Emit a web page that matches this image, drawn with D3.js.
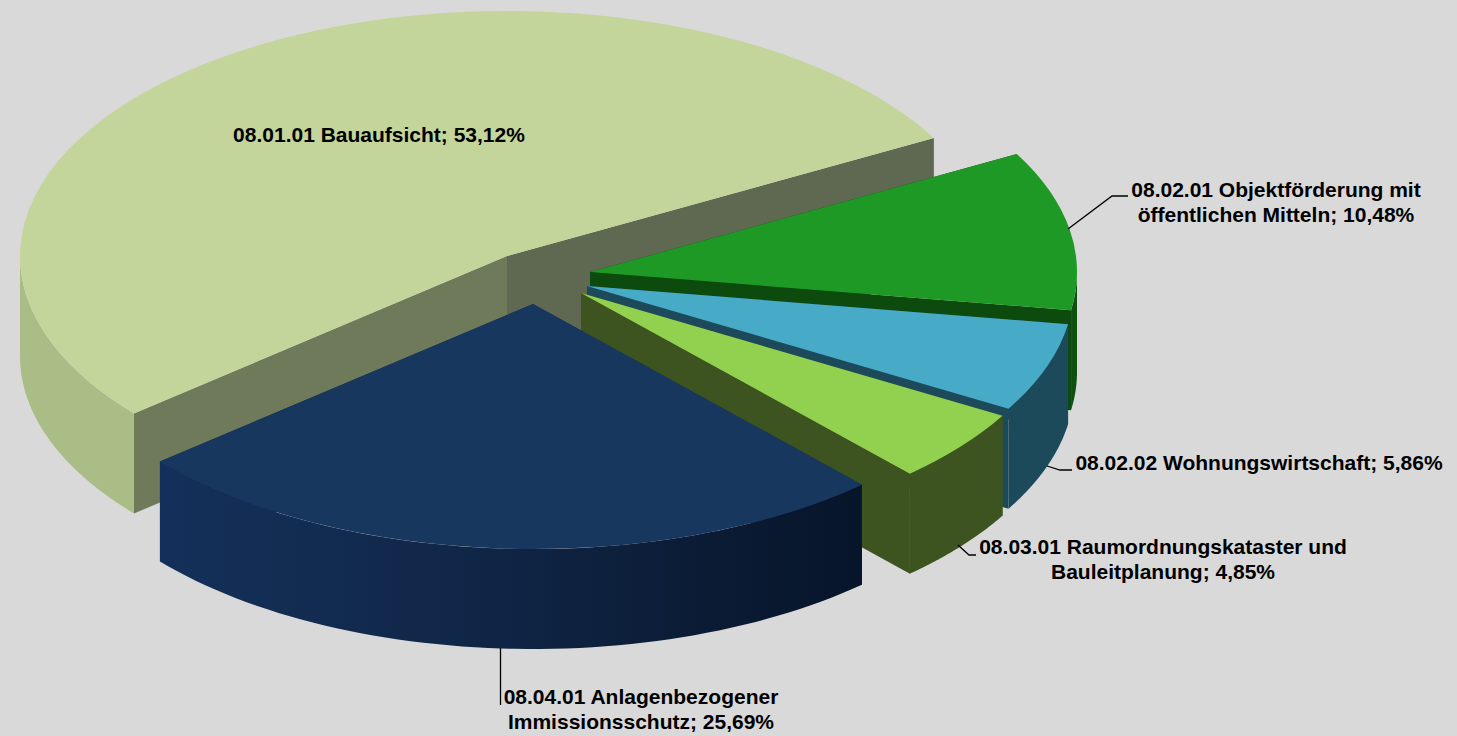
<!DOCTYPE html>
<html>
<head>
<meta charset="utf-8">
<style>
	html, body { margin: 0; padding: 0; background: #d9d9d9; }
	svg { display: block; }
	text { font-family: "Liberation Sans", Arial, sans-serif; font-weight: bold; font-size: 21px; fill: #000; }
</style>
<script src="https://cdnjs.cloudflare.com/ajax/libs/d3/7.8.5/d3.min.js"></script>
</head>
<body>
<script>
// values, clockwise from the start of the big slice
var categories = [
	'08.01.01 Bauaufsicht',
	'08.02.01 Objektförderung mit öffentlichen Mitteln',
	'08.02.02 Wohnungswirtschaft',
	'08.03.01 Raumordnungskataster und Bauleitplanung',
	'08.04.01 Anlagenbezogener Immissionsschutz'
];
var shares = [53.12, 10.48, 5.86, 4.85, 25.69];
var labelLines = [
	['08.01.01 Bauaufsicht; 53,12%'],
	['08.02.01 Objektförderung mit', 'öffentlichen Mitteln; 10,48%'],
	['08.02.02 Wohnungswirtschaft; 5,86%'],
	['08.03.01 Raumordnungskataster und', 'Bauleitplanung; 4,85%'],
	['08.04.01 Anlagenbezogener', 'Immissionsschutz; 25,69%']
];

var width = 1457, height = 736;

// pie geometry
var rx = 487, ry = 245, depth = 100;
var firstAngle = 230 * Math.PI / 180;
var apexes = [[507, 256], [590, 272], [587, 286], [581, 293], [533, 304]];

// styles
var topColors = ['#c4d59b', '#1f9926', '#47abc8', '#92d050', '#17375e'];
var rimColors = ['#aabd87', '#0e500f', '#1c4a5b', '#3d5320', 'url(#navyRim)'];
var wallColors = [['#6f7a5a', '#5f6850'], ['#0c4a0d', '#0c4a0d'], ['#1c4a5b', '#1c4a5b'], ['#3d5320', '#3d5320'], ['#14305a', '#14305a']];

// label positions: centre x, first baseline
var labelPos = [[379, 142], [1276, 197], [1259, 470], [1163, 554], [641, 704]];
var leaders = [
	null,
	[[1068, 229], [1112, 196], [1128, 196]],
	[[1047, 466], [1060, 470], [1072, 470]],
	[[958, 545], [969, 555], [976, 555]],
	[[500.5, 648], [500.5, 705]]
];

var svg = d3.select('body').append('svg')
	.attr('width', width)
	.attr('height', height);

svg.append('rect')
	.attr('width', width)
	.attr('height', height)
	.attr('fill', '#d9d9d9');

var gradient = svg.append('defs').append('linearGradient')
	.attr('id', 'navyRim')
	.attr('gradientUnits', 'userSpaceOnUse')
	.attr('x1', 160).attr('x2', 863)
	.attr('y1', 0).attr('y2', 0);
gradient.selectAll('stop')
	.data([[0, '#14305a'], [0.45, '#102647'], [0.75, '#0b1c36'], [1, '#07152a']])
	.enter().append('stop')
	.attr('offset', function(d) { return d[0]; })
	.attr('stop-color', function(d) { return d[1]; });

var slices = d3.pie()
	.sort(null)
	.startAngle(firstAngle)
	.endAngle(firstAngle + 2 * Math.PI)(shares);

var arc = d3.arc().innerRadius(0).outerRadius(rx);
var line = d3.line();

function rimPoint(apex, angle, drop) {
	return [apex[0] + rx * Math.sin(angle), apex[1] - ry * Math.cos(angle) + drop];
}

// only the part of the rim facing the viewer, angle 90..270 deg
function rimPath(apex, a0, a1) {
	var turn = 2 * Math.PI;
	// slices after the big one have gone past a full turn
	if (a0 >= turn) { a0 -= turn; a1 -= turn; }
	var from = Math.max(a0, Math.PI / 2);
	var to = Math.min(a1, 3 * Math.PI / 2);
	if (to <= from) return null;
	var angles = d3.range(0, 61).map(function(i) { return from + (to - from) * i / 60; });
	var upper = angles.map(function(a) { return rimPoint(apex, a, 0); });
	var lower = angles.slice().reverse().map(function(a) { return rimPoint(apex, a, depth); });
	return line(upper.concat(lower)) + 'Z';
}

function wallPath(apex, angle) {
	var p = rimPoint(apex, angle, 0);
	return line([apex, p, [p[0], p[1] + depth], [apex[0], apex[1] + depth]]) + 'Z';
}

var groups = svg.selectAll('g.slice')
	.data(slices)
	.enter().append('g')
	.attr('class', 'slice');

groups.each(function(d, i) {
	var g = d3.select(this);
	var apex = apexes[i];

	g.append('path').attr('d', wallPath(apex, d.startAngle)).attr('fill', wallColors[i][0]);
	g.append('path').attr('d', wallPath(apex, d.endAngle)).attr('fill', wallColors[i][1]);

	// rim stays in front of the cut faces
	var rim = rimPath(apex, d.startAngle, d.endAngle);
	if (rim) g.append('path').attr('d', rim).attr('fill', rimColors[i]);

	g.append('path')
		.attr('transform', 'translate(' + apex[0] + ',' + apex[1] + ') scale(1,' + (ry / rx) + ')')
		.attr('d', arc(d))
		.attr('fill', topColors[i]);
});

// leader lines
svg.append('g').selectAll('path')
	.data(leaders.filter(function(d) { return d; }))
	.enter().append('path')
	.attr('d', function(d) { return line(d); })
	.attr('fill', 'none')
	.attr('stroke', '#000')
	.attr('stroke-width', 1.3);

// labels
var labels = svg.append('g').selectAll('text')
	.data(labelLines)
	.enter().append('text')
	.attr('text-anchor', 'middle')
	.attr('y', function(d, i) { return labelPos[i][1]; });

labels.selectAll('tspan')
	.data(function(d, i) { return d.map(function(t) { return { text: t, x: labelPos[i][0] }; }); })
	.enter().append('tspan')
	.attr('x', function(d) { return d.x; })
	.attr('dy', function(d, j) { return j ? 25 : 0; })
	.text(function(d) { return d.text; });
</script>
</body>
</html>
